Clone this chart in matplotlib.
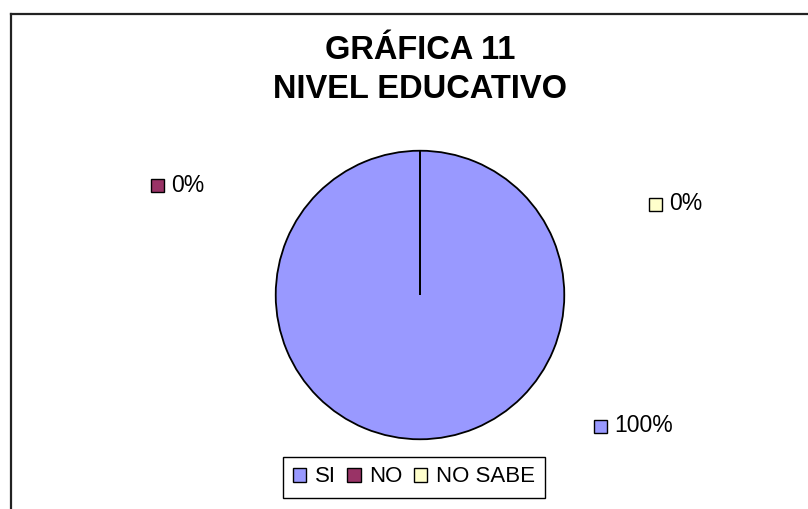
import matplotlib
matplotlib.use("Agg")
import matplotlib.pyplot as plt
from matplotlib.patches import Rectangle
from matplotlib.lines import Line2D

plt.rcParams['font.family'] = ['Liberation Sans', 'DejaVu Sans']

categories = ["SI", "NO", "NO SABE"]
values = [100, 0, 0]
pct_labels = ["100%", "0%", "0%"]
colors = ["#9999FF", "#993366", "#FFFFCC"]
title_lines = ["GRÁFICA 11", "NIVEL EDUCATIVO"]

W, H = 808, 509
fig = plt.figure(figsize=(W / 100, H / 100), dpi=100)
fig.patch.set_facecolor("white")

# pie axes: center (420, 295), radius 145 px
cx, cy, r = 420, 295, 145
ax = fig.add_axes([(cx - r) / W, 1 - (cy + r) / H, 2 * r / W, 2 * r / H])
wedges, _ = ax.pie(values, colors=colors, startangle=90, counterclock=False,
                   wedgeprops=dict(edgecolor="black", linewidth=1.3))
ax.set_aspect("equal")
ax.set_xlim(-1.005, 1.005)
ax.set_ylim(-1.005, 1.005)
ax.axis("off")

for line, ypx in zip(title_lines, [59, 98]):
    fig.text(cx / W, 1 - ypx / H, line, ha="center", va="baseline",
             fontsize=23.5, fontweight="bold")

# data labels with colored squares (pixel positions: square left, center y)
label_pos = {0: (594, 426), 1: (151, 185), 2: (649, 204)}
for i, (px, py) in label_pos.items():
    sq = 13
    fig.add_artist(Rectangle((px / W, 1 - (py + sq / 2) / H), sq / W, sq / H,
                             transform=fig.transFigure, facecolor=colors[i],
                             edgecolor="black", linewidth=1.0))
    fig.text((px + 20) / W, 1 - py / H, pct_labels[i], ha="left", va="center", fontsize=16.5)

handles = [Rectangle((0, 0), 1, 1, facecolor=c, edgecolor="black", linewidth=1.0) for c in colors]
leg = fig.legend(handles, categories, loc="center", bbox_to_anchor=(414 / W, 1 - 477 / H),
                 ncol=3, fontsize=16, frameon=True, fancybox=False, framealpha=1,
                 edgecolor="black", handlelength=0.6, handleheight=0.6,
                 handletextpad=0.4, columnspacing=0.5, borderpad=0.45,
                 borderaxespad=0)
leg.get_frame().set_linewidth(1.0)

# chart border (left and top visible)
fig.add_artist(Line2D([10.5 / W, 10.5 / W], [0, 1 - 13.5 / H], transform=fig.transFigure,
                      color="#222222", linewidth=1.6))
fig.add_artist(Line2D([10.5 / W, 1], [1 - 13.5 / H, 1 - 13.5 / H], transform=fig.transFigure,
                      color="#222222", linewidth=1.6))

fig.savefig("out.png", dpi=100, facecolor="white")
